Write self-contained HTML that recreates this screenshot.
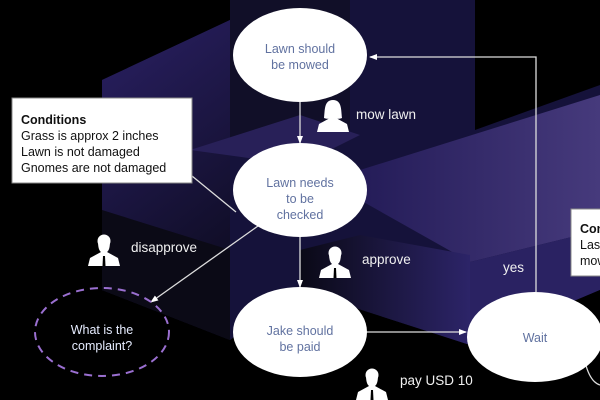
<!DOCTYPE html>
<html><head><meta charset="utf-8"><style>
html,body{margin:0;padding:0;background:#000;width:600px;height:400px;overflow:hidden}
svg{display:block;font-family:"Liberation Sans",sans-serif}
</style></head><body>
<svg width="600" height="400" viewBox="0 0 600 400">
<defs>
<linearGradient id="g1" x1="0" y1="0" x2="0.3" y2="1"><stop offset="0" stop-color="#2a2064"/><stop offset="1" stop-color="#0e0c22"/></linearGradient>
<linearGradient id="g2" x1="0" y1="0" x2="1" y2="0"><stop offset="0" stop-color="#241c58"/><stop offset="1" stop-color="#463a7c"/></linearGradient>
<linearGradient id="g3" x1="0" y1="0" x2="1" y2="0"><stop offset="0" stop-color="#0a0916"/><stop offset="1" stop-color="#2c2468"/></linearGradient>
<marker id="ar" markerWidth="8" markerHeight="8" refX="7" refY="4" orient="auto" markerUnits="userSpaceOnUse"><path d="M0,1 L8,4 L0,7 z" fill="#fff"/></marker>
<g id="man"><circle cx="0" cy="-9" r="6.5" fill="#fff"/><path d="M-6,-9 Q-6,0 -3,2 L-14,8 L-16,16 L16,16 L14,8 L3,2 Q6,0 6,-9 z" fill="#fff"/><path d="M-1,6 L1,6 L1.5,16 L-1.5,16 z" fill="#000"/></g>
<g id="woman"><path d="M0,-16 C-9,-16 -8,-6 -9,2 C-6,3 -4,3 -3,2 L-14,8 L-16,16 L16,16 L14,8 L3,2 C4,3 6,3 9,2 C8,-6 9,-16 0,-16 z" fill="#fff"/></g>
</defs>
<rect width="600" height="400" fill="#000"/>
<polygon points="102,80 230,20 230,0 475,0 475,130 600,85 600,290 470,345 300,290 230,340 102,290" fill="#15123a"/>
<polygon points="102,80 230,20 230,340 102,290" fill="url(#g1)"/>
<polygon points="230,0 350,0 350,130 230,150" fill="#110f28"/>
<polygon points="190,150 300,115 360,135 300,165" fill="#282058"/>
<polygon points="360,170 600,95 600,230 470,262 360,200" fill="url(#g2)"/>
<polygon points="102,210 230,250 230,340 102,290" fill="#0b0a16"/>
<polygon points="300,290 470,345 470,255 360,235 300,250" fill="url(#g3)"/>
<polygon points="470,262 600,230 600,290 470,345" fill="#2a2262"/>
<polygon points="470,345 600,290 600,400 470,400" fill="#000"/>

<g stroke="#ddd" stroke-width="1.3" fill="none">
<line x1="300" y1="102" x2="300" y2="143" marker-end="url(#ar)"/>
<line x1="300" y1="237" x2="300" y2="287" marker-end="url(#ar)"/>
<line x1="192" y1="176" x2="236" y2="212"/>
<line x1="258" y1="226" x2="151" y2="302" marker-end="url(#ar)"/>
<line x1="367" y1="332" x2="466" y2="332" marker-end="url(#ar)"/>
<polyline points="536,292 536,57 370,57" marker-end="url(#ar)"/>
<path d="M585,345 Q592,330 600,326"/>
<path d="M585,362 Q590,382 600,385"/>
</g>

<g fill="#fff">
<ellipse cx="300" cy="55" rx="67" ry="47"/>
<ellipse cx="300" cy="190" rx="67" ry="47"/>
<ellipse cx="300" cy="332" rx="67" ry="45"/>
<ellipse cx="535" cy="337" rx="68" ry="45"/>
</g>
<ellipse cx="102" cy="332" rx="67" ry="44" fill="none" stroke="#9a6fd0" stroke-width="2" stroke-dasharray="8,6"/>

<g font-size="12.5" fill="#6172a0" text-anchor="middle">
<text x="300" y="53">Lawn should</text><text x="300" y="69">be mowed</text>
<text x="300" y="187">Lawn needs</text><text x="300" y="203">to be</text><text x="300" y="219">checked</text>
<text x="300" y="335">Jake should</text><text x="300" y="351">be paid</text>
<text x="535" y="342">Wait</text>
</g>
<g font-size="12.5" fill="#e6ecff" text-anchor="middle">
<text x="102" y="334">What is the</text><text x="102" y="350">complaint?</text>
</g>

<rect x="12" y="98" width="180" height="85" fill="#fff" stroke="#888"/>
<g font-size="12.5" fill="#111">
<text x="21" y="124" font-weight="bold">Conditions</text>
<text x="21" y="140">Grass is approx 2 inches</text>
<text x="21" y="156">Lawn is not damaged</text>
<text x="21" y="172">Gnomes are not damaged</text>
</g>
<rect x="571" y="209" width="40" height="67" fill="#fff" stroke="#888"/>
<g font-size="12.5" fill="#111">
<text x="580" y="233" font-weight="bold">Conditions</text>
<text x="580" y="249">Last</text>
<text x="580" y="265">mowed</text>
</g>

<use href="#woman" x="333" y="116"/>
<use href="#man" x="104" y="250"/>
<use href="#man" x="335" y="262"/>
<use href="#man" x="372" y="384"/>
<g font-size="13.5" fill="#f0f0f0">
<text x="356" y="119">mow lawn</text>
<text x="131" y="252">disapprove</text>
<text x="362" y="264">approve</text>
<text x="503" y="272">yes</text>
<text x="400" y="385">pay USD 10</text>
</g>
</svg>
</body></html>
